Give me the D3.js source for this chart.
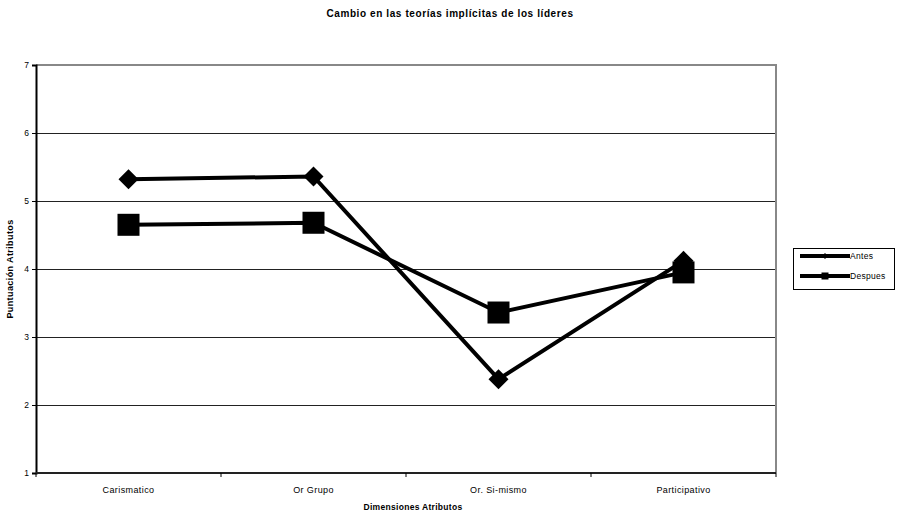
<!DOCTYPE html>
<html>
<head>
<meta charset="utf-8">
<script src="https://cdn.jsdelivr.net/npm/d3@7/dist/d3.min.js"></script>
<style>
  html, body { margin: 0; padding: 0; background: #fff; }
  svg { display: block; font-family: "Liberation Sans", Arial, sans-serif; }
</style>
</head>
<body>
<svg id="chart" width="898" height="516"></svg>
<script>
const categories = ["Carismatico", "Or Grupo", "Or. Si-mismo", "Participativo"];
const antes = [5.32, 5.36, 2.38, 4.12];
const despues = [4.65, 4.68, 3.36, 3.95];
const yTicks = [1, 2, 3, 4, 5, 6, 7];
const seriesNames = ["Antes", "Despues"];
const titleText = "Cambio en las teorías implícitas de los líderes";
const xTitle = "Dimensiones Atributos";
const yTitle = "Puntuación Atributos";

const svg = d3.select("#chart");
const margin = { left: 36, right: 898 - 776, top: 65, bottom: 516 - 473 };
const W = 898, H = 516;

const x = d3.scaleBand().domain(categories).range([margin.left, W - margin.right]);
const y = d3.scaleLinear().domain([1, 7]).range([H - margin.bottom, margin.top]);

// gridlines
svg.append("g").selectAll("line").data(yTicks.filter(d => d > 1 && d < 7)).join("line")
  .attr("x1", margin.left).attr("x2", W - margin.right)
  .attr("y1", d => y(d)).attr("y2", d => y(d))
  .attr("stroke", "#222").attr("stroke-width", 1).attr("shape-rendering", "crispEdges");

// plot border top/right grey
svg.append("path")
  .attr("d", `M${margin.left},${y(7)}H${W - margin.right}V${y(1)}`)
  .attr("fill", "none").attr("stroke", "#888").attr("stroke-width", 2);

// y axis
const yAxis = svg.append("g").attr("transform", `translate(${margin.left},0)`)
  .call(d3.axisLeft(y).tickValues(yTicks).tickFormat(d3.format("d")).tickSize(4).tickPadding(3));
yAxis.select(".domain").attr("stroke", "#000").attr("stroke-width", 2);
yAxis.selectAll(".tick line").attr("stroke", "#000");
yAxis.selectAll(".tick text").attr("font-size", 8.5).attr("fill", "#000")
  .attr("font-family", "'Liberation Sans', Arial, sans-serif");

// x axis
const xBounds = d3.range(categories.length + 1).map(i => margin.left + i * x.step());
const xAxisG = svg.append("g");
xAxisG.append("line").attr("x1", margin.left).attr("x2", W - margin.right)
  .attr("y1", y(1)).attr("y2", y(1)).attr("stroke", "#222").attr("stroke-width", 2);
xAxisG.selectAll("line.t").data(xBounds).join("line").attr("class", "t")
  .attr("x1", d => d).attr("x2", d => d).attr("y1", y(1)).attr("y2", y(1) + 4)
  .attr("stroke", "#000");
xAxisG.selectAll("text").data(categories).join("text")
  .attr("x", d => x(d) + x.bandwidth() / 2).attr("y", y(1) + 20)
  .attr("text-anchor", "middle").attr("font-size", 9).attr("letter-spacing", 0.4).text(d => d);

// titles
svg.append("text").attr("x", 450).attr("y", 17).attr("text-anchor", "middle")
  .attr("font-size", 10).attr("font-weight", "bold").attr("letter-spacing", 0.6).text(titleText);
svg.append("text").attr("x", 413).attr("y", 510)
  .attr("text-anchor", "middle").attr("font-size", 8.5).attr("font-weight", "bold").attr("letter-spacing", 0.3).text(xTitle);
svg.append("text").attr("transform", `translate(13,${(y(1) + y(7)) / 2}) rotate(-90)`)
  .attr("text-anchor", "middle").attr("font-size", 9).attr("font-weight", "bold").attr("letter-spacing", 0.4).text(yTitle);

const cx = d => x(d) + x.bandwidth() / 2;
const line = d3.line().x(d => cx(d.c)).y(d => y(d.v));

const series = [
  { name: seriesNames[0], values: antes, shape: "diamond" },
  { name: seriesNames[1], values: despues, shape: "square" }
];

function drawMarker(g, shape, px, py, big) {
  if (shape === "diamond") {
    const r = big ? 10 : 3;
    g.append("path").attr("d", `M${px},${py - r}L${px + r},${py}L${px},${py + r}L${px - r},${py}Z`).attr("fill", "#000");
  } else {
    const s = big ? 22 : 7;
    g.append("rect").attr("x", px - s / 2).attr("y", py - s / 2).attr("width", s).attr("height", s).attr("fill", "#000");
  }
}

series.forEach(s => {
  const pts = categories.map((c, i) => ({ c, v: s.values[i] }));
  const g = svg.append("g");
  g.append("path").attr("d", line(pts)).attr("fill", "none")
    .attr("stroke", "#000").attr("stroke-width", 4).attr("stroke-linejoin", "miter");
  pts.forEach(p => drawMarker(g, s.shape, cx(p.c), y(p.v), true));
});

// legend
const lg = svg.append("g");
lg.append("rect").attr("x", 793.5).attr("y", 248.5).attr("width", 101).attr("height", 41)
  .attr("fill", "#fff").attr("stroke", "#000").attr("stroke-width", 1);
series.forEach((s, i) => {
  const ly = 256 + i * 20;
  lg.append("line").attr("x1", 800).attr("x2", 850).attr("y1", ly).attr("y2", ly)
    .attr("stroke", "#000").attr("stroke-width", 4);
  drawMarker(lg, s.shape, 825, ly, false);
  lg.append("text").attr("x", 850).attr("y", ly + 3).attr("font-size", 8.5).attr("letter-spacing", 0.3).text(s.name);
});
</script>
</body>
</html>
